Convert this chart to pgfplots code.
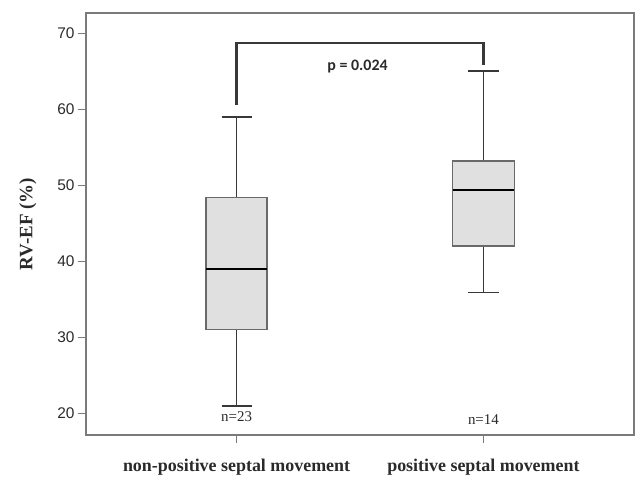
\documentclass[border=0pt]{standalone}
\usepackage{pgfplots}
\pgfplotsset{compat=1.18}
\usepackage{fontspec}
\setmainfont{Liberation Serif}
\newfontfamily\arial{Liberation Sans}
\newfontfamily\calib{Carlito}
\definecolor{boxfill}{HTML}{E0E0E0}
\definecolor{boxline}{HTML}{6A6A6A}
\definecolor{wline}{HTML}{383838}
\definecolor{axline}{HTML}{7A7A7A}
\definecolor{txt}{HTML}{2A2A2A}
\begin{document}
\begin{tikzpicture}
\begin{axis}[
  at={(0,0)}, anchor=south west,
  scale only axis, width=548bp, height=422bp,
  xmin=-0.61, xmax=1.61, ymin=17.14, ymax=72.67,
  xtick={0,1}, xticklabels={non-positive septal movement, positive septal movement},
  ytick={20,30,40,50,60,70},
  x tick label style={font=\fontsize{18}{20}\selectfont\bfseries, yshift=-13bp, text=txt},
  y tick label style={font=\arial\fontsize{15.5}{17}\selectfont, text=txt},
  /pgf/number format/assume math mode=true,
  tick align=outside, major tick length=8bp,
  tick style={axline, line width=1.4pt},
  xtick pos=bottom, ytick pos=left,
  axis line style={axline, line width=1.6pt},
  ylabel={\fontsize{19}{21}\selectfont\bfseries RV-EF (\%)},
  ylabel style={at={(axis description cs:-0.106,0.5)}, anchor=center, text=txt},
  clip=false,
]
% group 1: whiskers
\addplot[wline, line width=1.8pt, mark=none] coordinates {(0,21) (0,31)};
\addplot[wline, line width=1.8pt, mark=none] coordinates {(0,48.4) (0,59)};
\addplot[wline, line width=1.8pt, mark=none] coordinates {(-0.061,21) (0.061,21)};
\addplot[wline, line width=1.8pt, mark=none] coordinates {(-0.061,59) (0.061,59)};
% group 1: box
\addplot[draw=boxline, fill=boxfill, line width=1.5pt, mark=none] coordinates {(-0.1235,31) (0.1235,31) (0.1235,48.4) (-0.1235,48.4)} --cycle;
\addplot[black, line width=2.6pt, mark=none] coordinates {(-0.1235,39) (0.1235,39)};
% group 2: whiskers
\addplot[wline, line width=1.8pt, mark=none] coordinates {(1,35.9) (1,42)};
\addplot[wline, line width=1.8pt, mark=none] coordinates {(1,53.2) (1,65)};
\addplot[wline, line width=1.8pt, mark=none] coordinates {(0.938,35.9) (1.062,35.9)};
\addplot[wline, line width=1.8pt, mark=none] coordinates {(0.938,65) (1.062,65)};
% group 2: box
\addplot[draw=boxline, fill=boxfill, line width=1.5pt, mark=none] coordinates {(0.875,42) (1.125,42) (1.125,53.2) (0.875,53.2)} --cycle;
\addplot[black, line width=2.6pt, mark=none] coordinates {(0.875,49.4) (1.125,49.4)};
% significance bracket
\addplot[wline, line width=2.2pt, mark=none] coordinates {(0,60.5) (0,68.7) (1,68.7) (1,65.8)};
\node[font=\calib\bfseries\fontsize{16}{18}\selectfont, text=txt] at (axis cs:0.49,65.6) {p = 0.024};
\node[font=\fontsize{15}{17}\selectfont, text=txt] at (axis cs:0,19.5) {n=23};
\node[font=\fontsize{15}{17}\selectfont, text=txt] at (axis cs:1,19.2) {n=14};
\coordinate (ll) at (rel axis cs:0,0);
\coordinate (ur) at (rel axis cs:1,1);
\end{axis}
\pgfresetboundingbox
\useasboundingbox ([shift={(-86bp,-42bp)}]ll) rectangle ([shift={(3bp,13bp)}]ur);
\end{tikzpicture}
\end{document}
